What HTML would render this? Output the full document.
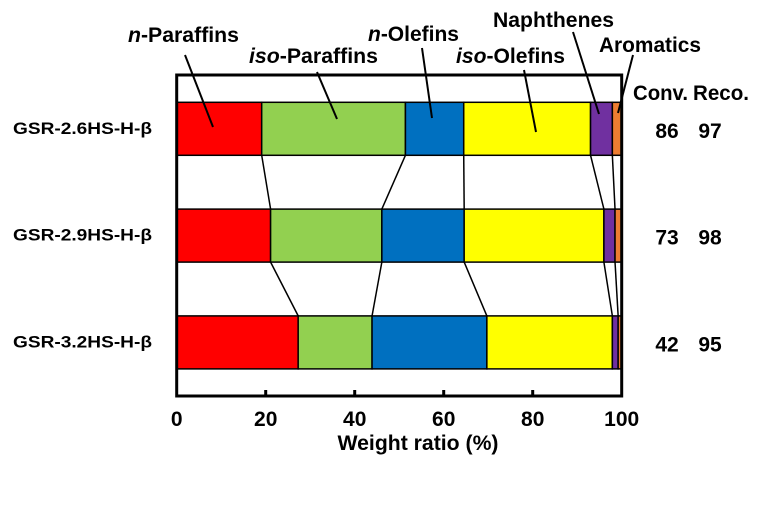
<!DOCTYPE html>
<html><head><meta charset="utf-8"><style>
html,body{margin:0;padding:0;background:#fff}
svg text{font-family:"Liberation Sans",Arial,sans-serif;font-weight:bold;fill:#000}
</style></head><body>
<svg id="chart" width="762" height="524" viewBox="0 0 762 524" xmlns="http://www.w3.org/2000/svg">
<g id="marks"></g>
<rect x="176.7" y="75" width="445" height="321" fill="none" stroke="#000" stroke-width="3"/>
<g id="ticks"></g>
<text x="418" y="450" text-anchor="middle" font-size="21" textLength="161" lengthAdjust="spacingAndGlyphs">Weight ratio (%)</text>
<g id="callouts" stroke="#000" stroke-width="2">
<line x1="185" y1="55" x2="213" y2="127"/>
<line x1="317" y1="72" x2="337" y2="119"/>
<line x1="422" y1="48" x2="432" y2="118"/>
<line x1="524" y1="70" x2="536" y2="132"/>
<line x1="573" y1="32" x2="599" y2="114"/>
<line x1="633" y1="55" x2="618" y2="113"/>
</g>
<g font-size="21">
<text x="128" y="42" textLength="111" lengthAdjust="spacingAndGlyphs"><tspan font-style="italic">n</tspan>-Paraffins</text>
<text x="249" y="63" textLength="129" lengthAdjust="spacingAndGlyphs"><tspan font-style="italic">iso</tspan>-Paraffins</text>
<text x="368" y="41" textLength="91" lengthAdjust="spacingAndGlyphs"><tspan font-style="italic">n</tspan>-Olefins</text>
<text x="456" y="63" textLength="109" lengthAdjust="spacingAndGlyphs"><tspan font-style="italic">iso</tspan>-Olefins</text>
<text x="493" y="27" textLength="121" lengthAdjust="spacingAndGlyphs">Naphthenes</text>
<text x="599" y="52" textLength="102" lengthAdjust="spacingAndGlyphs">Aromatics</text>
<text x="633" y="100" textLength="55" lengthAdjust="spacingAndGlyphs">Conv.</text>
<text x="693" y="100" textLength="56" lengthAdjust="spacingAndGlyphs">Reco.</text>
</g>
<g id="rowtext"></g>
</svg>
<script>
const categories = ["GSR-2.6HS-H-β","GSR-2.9HS-H-β","GSR-3.2HS-H-β"];
const nParaffins = [19.1, 21.1, 27.3];
const isoParaffins = [32.3, 25.0, 16.6];
const nOlefins = [13.1, 18.5, 25.8];
const isoOlefins = [28.5, 31.4, 28.2];
const naphthenes = [4.9, 2.5, 1.3];
const aromatics = [2.1, 1.5, 0.8];
const conversion = [86, 73, 42];
const recovery = [97, 98, 95];
const xTicks = [0, 20, 40, 60, 80, 100];

const seriesList = [
  {name:"n-paraffins", vals:nParaffins, color:"#ff0000"},
  {name:"iso-paraffins", vals:isoParaffins, color:"#92d050"},
  {name:"n-olefins", vals:nOlefins, color:"#0070c0"},
  {name:"iso-olefins", vals:isoOlefins, color:"#ffff00"},
  {name:"naphthenes", vals:naphthenes, color:"#7030a0"},
  {name:"aromatics", vals:aromatics, color:"#ed7d31"}
];
const NS = "http://www.w3.org/2000/svg";
const X0 = 176.7, X1 = 621.7;
function xs(v){ return X0 + (X1 - X0) * v / 100; }
function rowTop(i){ return 102.3 + i * 106.8; }
const BH = 53;
const marks = document.getElementById('marks');
const cum = categories.map(() => []);
categories.forEach((c, i) => {
  let acc = 0;
  seriesList.forEach(s => {
    const v = s.vals[i];
    const r = document.createElementNS(NS, 'rect');
    r.setAttribute('x', xs(acc));
    r.setAttribute('y', rowTop(i));
    r.setAttribute('width', Math.max(0, xs(acc + v) - xs(acc)));
    r.setAttribute('height', BH);
    r.setAttribute('fill', s.color);
    r.setAttribute('stroke', '#000');
    r.setAttribute('stroke-width', '1.5');
    
    
    marks.appendChild(r);
    acc += v;
    cum[i].push(acc);
  });
});
for (let i = 0; i < categories.length - 1; i++) {
  for (let k = 0; k < seriesList.length - 1; k++) {
    const l = document.createElementNS(NS, 'line');
    l.setAttribute('x1', xs(cum[i][k]));
    l.setAttribute('y1', rowTop(i) + BH);
    l.setAttribute('x2', xs(cum[i + 1][k]));
    l.setAttribute('y2', rowTop(i + 1));
    l.setAttribute('stroke', '#000');
    l.setAttribute('stroke-width', '1.5');
    
    
    marks.appendChild(l);
  }
}
const ticks = document.getElementById('ticks');
xTicks.forEach(t => {
  if (t > 0 && t < 100) {
    const l = document.createElementNS(NS, 'line');
    l.setAttribute('x1', xs(t)); l.setAttribute('x2', xs(t));
    l.setAttribute('y1', 390); l.setAttribute('y2', 396);
    l.setAttribute('stroke', '#000'); l.setAttribute('stroke-width', '3');
    
    
    ticks.appendChild(l);
  }
  const tx = document.createElementNS(NS, 'text');
  tx.setAttribute('x', xs(t)); tx.setAttribute('y', 426);
  tx.setAttribute('text-anchor', 'middle'); tx.setAttribute('font-size', '21');
  tx.textContent = t;
  
  
  ticks.appendChild(tx);
});
const rt = document.getElementById('rowtext');
categories.forEach((c, i) => {
  const yc = rowTop(i) + BH / 2 + 6;
  const a = document.createElementNS(NS, 'text');
  a.setAttribute('x', 152); a.setAttribute('y', yc - 1);
  a.setAttribute('text-anchor', 'end'); a.setAttribute('font-size', '17');
  a.setAttribute('textLength', '139'); a.setAttribute('lengthAdjust', 'spacingAndGlyphs');
  a.textContent = c;
  
  
  rt.appendChild(a);
  const b = document.createElementNS(NS, 'text');
  b.setAttribute('x', 667); b.setAttribute('y', yc + 3);
  b.setAttribute('text-anchor', 'middle'); b.setAttribute('font-size', '21');
  b.textContent = conversion[i];
  
  
  rt.appendChild(b);
  const d = document.createElementNS(NS, 'text');
  d.setAttribute('x', 710); d.setAttribute('y', yc + 3);
  d.setAttribute('text-anchor', 'middle'); d.setAttribute('font-size', '21');
  d.textContent = recovery[i];
  
  
  rt.appendChild(d);
});
</script>
</body></html>
